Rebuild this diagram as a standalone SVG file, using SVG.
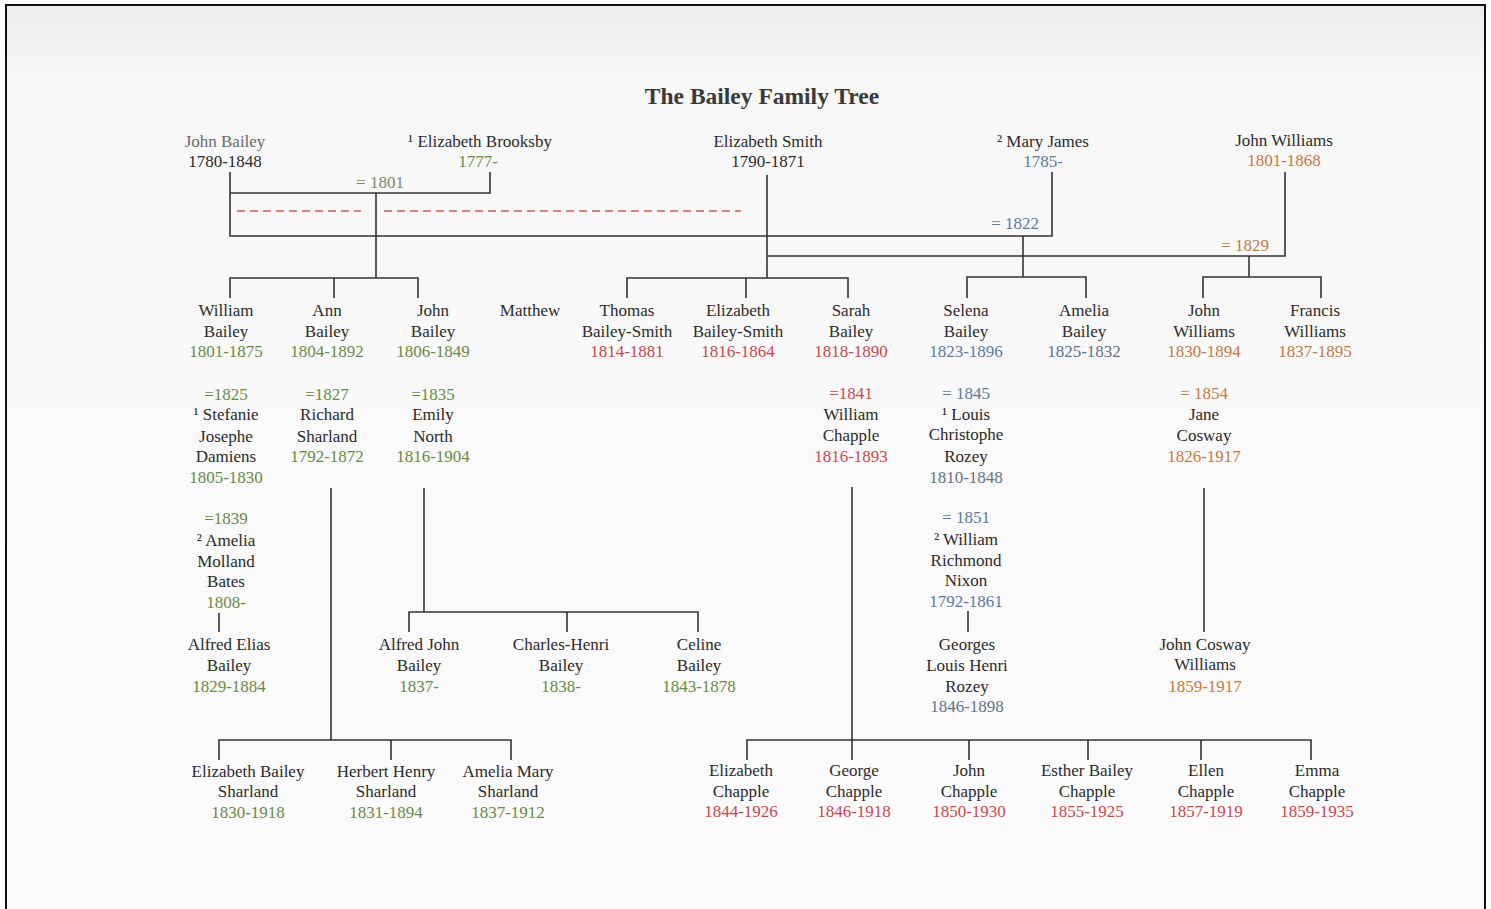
<svg xmlns="http://www.w3.org/2000/svg" width="1491" height="909" viewBox="0 0 1491 909">
<defs>
<linearGradient id="paper" x1="0" y1="0" x2="0" y2="1">
<stop offset="0" stop-color="#ececec"/>
<stop offset="0.08" stop-color="#f8f8f8"/>
<stop offset="1" stop-color="#fbfbfb"/>
</linearGradient>
</defs>
<style>
text{font-family:"Liberation Serif","Times New Roman",serif;font-size:17px;text-anchor:middle;fill:#2b2b2b}
.title{font-size:23.5px;font-weight:bold;fill:#3a3a3a}
.gray{fill:#6a6a6a}
.g{fill:#6b8a45}
.r{fill:#d0454a}
.b{fill:#5a7aa5}
.bg{fill:#5f7585}
.o{fill:#c57a3e}
.m{fill:#7b8a68}
.ln{fill:none;stroke:#333;stroke-width:1.6}
.dash{fill:none;stroke:#d05a55;stroke-width:1.3;stroke-dasharray:8 5}
</style>
<rect x="6" y="5" width="1479" height="930" fill="url(#paper)" stroke="#111" stroke-width="2"/>
<text class="title" x="762" y="104">The Bailey Family Tree</text>

<g id="connectors">
<path class="ln" d="M230 172 V236 H1052 V172"/>
<path class="ln" d="M490 172 V193 H230"/>
<path class="ln" d="M376 193 V278"/>
<path class="ln" d="M230 298 V278 H418 V298 M334 278 V298"/>
<path class="dash" d="M237 211 H361 M384 211 H741"/>
<path class="ln" d="M767 175 V278"/>
<path class="ln" d="M627 298 V278 H848 V298 M746 278 V298"/>
<path class="ln" d="M767 256 H1285 V172"/>
<path class="ln" d="M1249 256 V277"/>
<path class="ln" d="M1203 298 V277 H1321 V298"/>
<path class="ln" d="M1023 236 V277"/>
<path class="ln" d="M967 298 V277 H1086 V298"/>
<path class="ln" d="M219 613 V632"/>
<path class="ln" d="M331 488 V740"/>
<path class="ln" d="M219 760 V740 H511 V760 M391 740 V760"/>
<path class="ln" d="M424 488 V612"/>
<path class="ln" d="M409 632 V612 H698 V632 M567 612 V632"/>
<path class="ln" d="M852 487 V760"/>
<path class="ln" d="M747 760 V740 H1311 V760 M969 740 V760 M1088 740 V760 M1201 740 V760"/>
<path class="ln" d="M968 611 V632"/>
<path class="ln" d="M1204 488 V632"/>
<text class="m" x="380" y="188">= 1801</text>
<text class="b" x="1015" y="229">= 1822</text>
<text class="o" x="1245" y="251">= 1829</text>
</g>

<g id="john-bailey"><text class="gray" x="225" y="147">John Bailey</text><text x="225" y="167">1780-1848</text></g>
<g id="elizabeth-brooksby"><text x="480" y="147">¹ Elizabeth Brooksby</text><text class="g" x="478" y="167">1777-</text></g>
<g id="elizabeth-smith"><text x="768" y="147">Elizabeth Smith</text><text x="768" y="167">1790-1871</text></g>
<g id="mary-james"><text x="1043" y="147">² Mary James</text><text class="b" x="1043" y="167">1785-</text></g>
<g id="john-williams-sr"><text x="1284" y="146">John Williams</text><text class="o" x="1284" y="166">1801-1868</text></g>

<g id="william-bailey"><text x="226" y="316">William</text><text x="226" y="337">Bailey</text><text class="g" x="226" y="357">1801-1875</text></g>
<g id="ann-bailey"><text x="327" y="316">Ann</text><text x="327" y="337">Bailey</text><text class="g" x="327" y="357">1804-1892</text></g>
<g id="john-bailey-jr"><text x="433" y="316">John</text><text x="433" y="337">Bailey</text><text class="g" x="433" y="357">1806-1849</text></g>
<g id="matthew"><text x="530" y="316">Matthew</text></g>
<g id="thomas-bailey-smith"><text x="627" y="316">Thomas</text><text x="627" y="337">Bailey-Smith</text><text class="r" x="627" y="357">1814-1881</text></g>
<g id="elizabeth-bailey-smith"><text x="738" y="316">Elizabeth</text><text x="738" y="337">Bailey-Smith</text><text class="r" x="738" y="357">1816-1864</text></g>
<g id="sarah-bailey"><text x="851" y="316">Sarah</text><text x="851" y="337">Bailey</text><text class="r" x="851" y="357">1818-1890</text></g>
<g id="selena-bailey"><text x="966" y="316">Selena</text><text x="966" y="337">Bailey</text><text class="b" x="966" y="357">1823-1896</text></g>
<g id="amelia-bailey"><text x="1084" y="316">Amelia</text><text x="1084" y="337">Bailey</text><text class="bg" x="1084" y="357">1825-1832</text></g>
<g id="john-williams"><text x="1204" y="316">John</text><text x="1204" y="337">Williams</text><text class="o" x="1204" y="357">1830-1894</text></g>
<g id="francis-williams"><text x="1315" y="316">Francis</text><text x="1315" y="337">Williams</text><text class="o" x="1315" y="357">1837-1895</text></g>

<g id="stefanie-damiens"><text class="g" x="226" y="400">=1825</text><text x="226" y="420">¹ Stefanie</text><text x="226" y="442">Josephe</text><text x="226" y="462">Damiens</text><text class="g" x="226" y="483">1805-1830</text></g>
<g id="richard-sharland"><text class="g" x="327" y="400">=1827</text><text x="327" y="420">Richard</text><text x="327" y="442">Sharland</text><text class="g" x="327" y="462">1792-1872</text></g>
<g id="emily-north"><text class="g" x="433" y="400">=1835</text><text x="433" y="420">Emily</text><text x="433" y="442">North</text><text class="g" x="433" y="462">1816-1904</text></g>
<g id="william-chapple"><text class="r" x="851" y="399">=1841</text><text x="851" y="420">William</text><text x="851" y="441">Chapple</text><text class="r" x="851" y="462">1816-1893</text></g>
<g id="louis-rozey"><text class="b" x="966" y="399">= 1845</text><text x="966" y="420">¹ Louis</text><text x="966" y="440">Christophe</text><text x="966" y="462">Rozey</text><text class="bg" x="966" y="483">1810-1848</text></g>
<g id="jane-cosway"><text class="o" x="1204" y="399">= 1854</text><text x="1204" y="420">Jane</text><text x="1204" y="441">Cosway</text><text class="o" x="1204" y="462">1826-1917</text></g>

<g id="amelia-bates"><text class="g" x="226" y="524">=1839</text><text x="226" y="546">² Amelia</text><text x="226" y="567">Molland</text><text x="226" y="587">Bates</text><text class="g" x="226" y="608">1808-</text></g>
<g id="william-nixon"><text class="b" x="966" y="523">= 1851</text><text x="966" y="545">² William</text><text x="966" y="566">Richmond</text><text x="966" y="586">Nixon</text><text class="b" x="966" y="607">1792-1861</text></g>

<g id="alfred-elias-bailey"><text x="229" y="650">Alfred Elias</text><text x="229" y="671">Bailey</text><text class="g" x="229" y="692">1829-1884</text></g>
<g id="alfred-john-bailey"><text x="419" y="650">Alfred John</text><text x="419" y="671">Bailey</text><text class="g" x="419" y="692">1837-</text></g>
<g id="charles-henri-bailey"><text x="561" y="650">Charles-Henri</text><text x="561" y="671">Bailey</text><text class="g" x="561" y="692">1838-</text></g>
<g id="celine-bailey"><text x="699" y="650">Celine</text><text x="699" y="671">Bailey</text><text class="g" x="699" y="692">1843-1878</text></g>
<g id="georges-rozey"><text x="967" y="650">Georges</text><text x="967" y="671">Louis Henri</text><text x="967" y="692">Rozey</text><text class="bg" x="967" y="712">1846-1898</text></g>
<g id="john-cosway-williams"><text x="1205" y="650">John Cosway</text><text x="1205" y="670">Williams</text><text class="o" x="1205" y="692">1859-1917</text></g>

<g id="elizabeth-sharland"><text x="248" y="777">Elizabeth Bailey</text><text x="248" y="797">Sharland</text><text class="g" x="248" y="818">1830-1918</text></g>
<g id="herbert-sharland"><text x="386" y="777">Herbert Henry</text><text x="386" y="797">Sharland</text><text class="g" x="386" y="818">1831-1894</text></g>
<g id="amelia-sharland"><text x="508" y="777">Amelia Mary</text><text x="508" y="797">Sharland</text><text class="g" x="508" y="818">1837-1912</text></g>

<g id="elizabeth-chapple"><text x="741" y="776">Elizabeth</text><text x="741" y="797">Chapple</text><text class="r" x="741" y="817">1844-1926</text></g>
<g id="george-chapple"><text x="854" y="776">George</text><text x="854" y="797">Chapple</text><text class="r" x="854" y="817">1846-1918</text></g>
<g id="john-chapple"><text x="969" y="776">John</text><text x="969" y="797">Chapple</text><text class="r" x="969" y="817">1850-1930</text></g>
<g id="esther-chapple"><text x="1087" y="776">Esther Bailey</text><text x="1087" y="797">Chapple</text><text class="r" x="1087" y="817">1855-1925</text></g>
<g id="ellen-chapple"><text x="1206" y="776">Ellen</text><text x="1206" y="797">Chapple</text><text class="r" x="1206" y="817">1857-1919</text></g>
<g id="emma-chapple"><text x="1317" y="776">Emma</text><text x="1317" y="797">Chapple</text><text class="r" x="1317" y="817">1859-1935</text></g>
</svg>
